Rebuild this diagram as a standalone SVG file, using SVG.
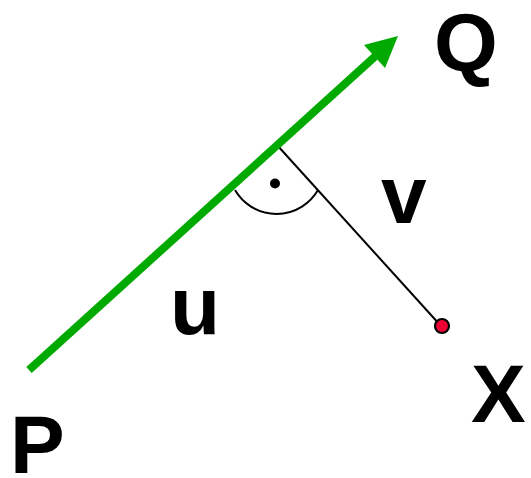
<svg xmlns="http://www.w3.org/2000/svg" width="531" height="478" viewBox="0 0 531 478">
<style>
.lbl{font-family:"Liberation Sans",Arial,sans-serif;font-weight:bold;font-size:82px;fill:#000}
.thin{stroke:#000;stroke-width:2;fill:none}
</style>
<rect width="531" height="478" fill="#fff"/>
<g id="connectors">
<line class="thin" x1="277" y1="145" x2="441" y2="326"/>
<path class="thin" d="M235,190 A48,48 0 0,0 318,190"/>
<line x1="29" y1="370" x2="375" y2="56.5" stroke="#00aa00" stroke-width="8"/>
<polygon points="398,36 364,45 385,68" fill="#00aa00"/>
<circle cx="275" cy="183.5" r="5" fill="#000"/>
</g>
<g id="node-X-point"><circle cx="442" cy="326" r="7" fill="#ee0033" stroke="#000" stroke-width="2.2"/></g>
<g id="label-P"><text class="lbl" x="10" y="473">P</text></g>
<g id="label-Q"><text class="lbl" x="434" y="71">Q</text></g>
<g id="label-X"><text class="lbl" x="471" y="422">X</text></g>
<g id="label-u"><text class="lbl" x="170" y="334">u</text></g>
<g id="label-v"><text class="lbl" x="381" y="223">v</text></g>
</svg>
